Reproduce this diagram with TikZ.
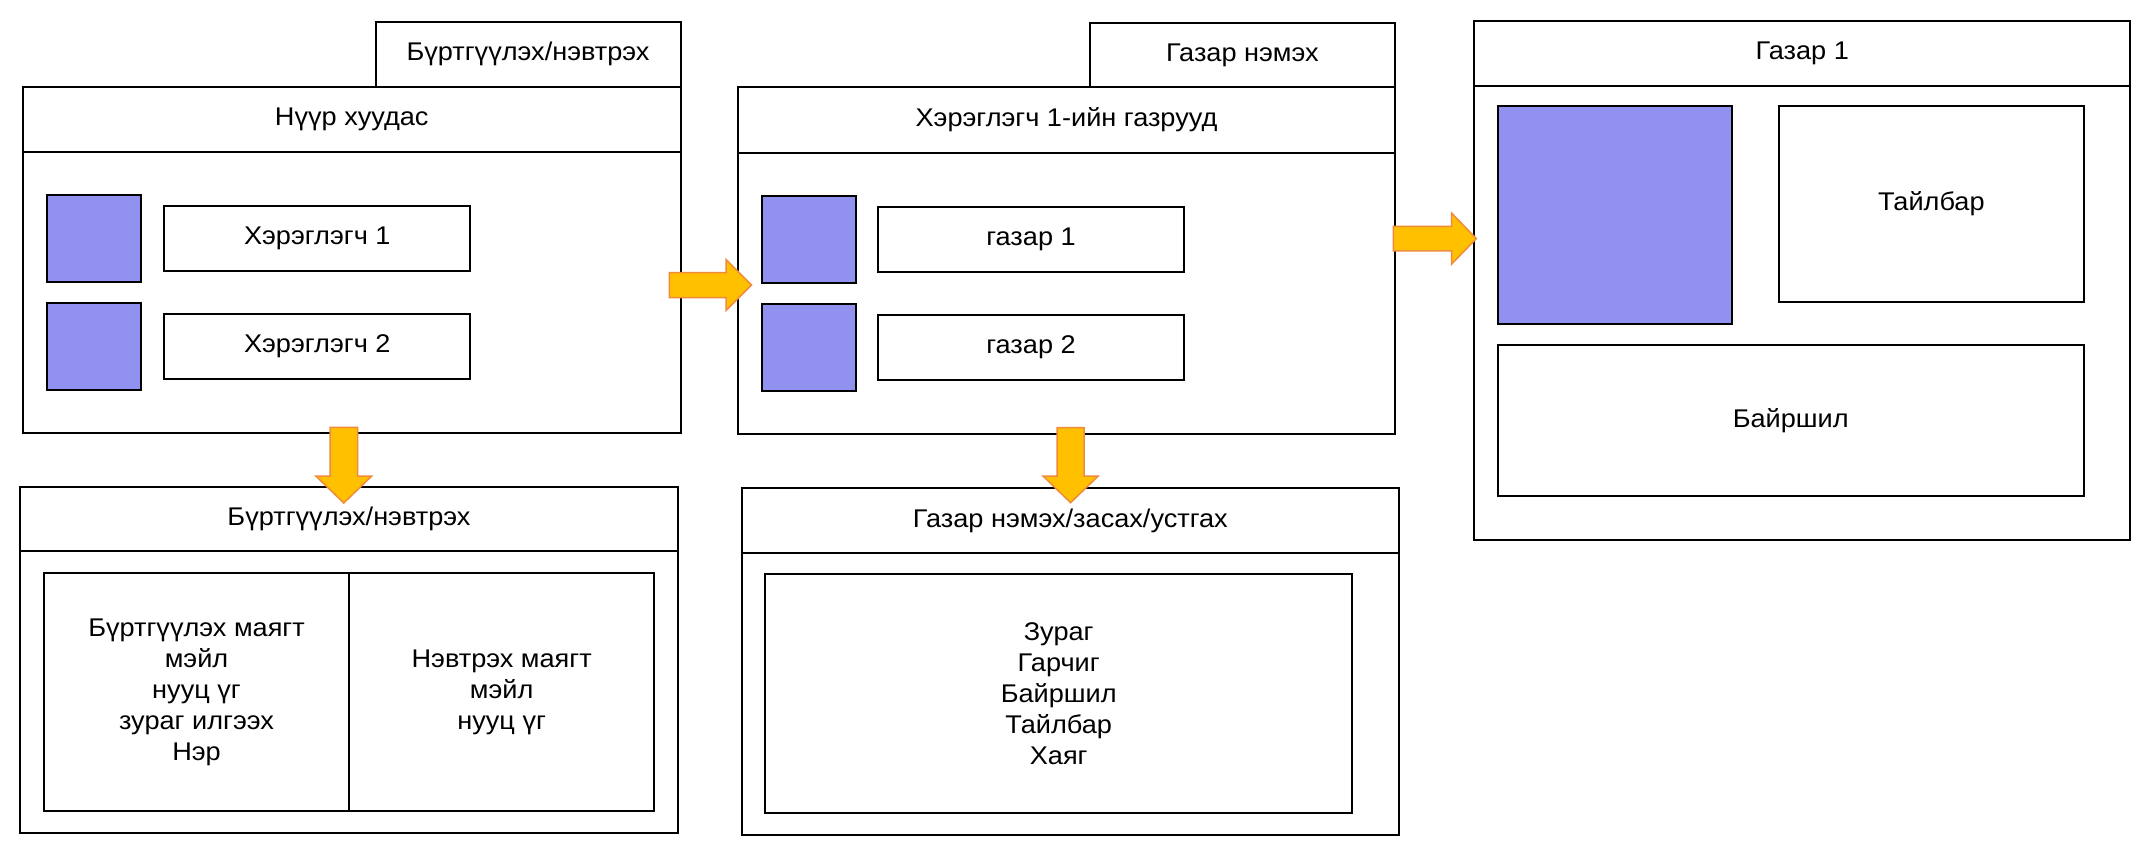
\documentclass[tikz,border=0pt]{standalone}
\usepackage{fontspec}
\setmainfont{Liberation Sans}[FakeStretch=1.06]
\definecolor{imgblue}{RGB}{145,145,240}
\definecolor{arrfill}{RGB}{255,192,0}
\definecolor{arrline}{RGB}{239,139,60}
\begin{document}
\begin{tikzpicture}[x=1pt,y=-1pt,
  box/.style={draw=black, line width=2pt, fill=white, inner sep=0pt, outer sep=0pt, align=center, font=\fontsize{25.6}{31}\selectfont},
  img/.style={draw=black, line width=2pt, fill=imgblue, inner sep=0pt, outer sep=0pt},
  blockarrow/.style={draw=arrline, line width=1.5pt, fill=arrfill, line join=miter}]
\useasboundingbox[fill=white] (0,0) rectangle (2154,854);

% ---- Box A: Нүүр хуудас
\node[box,minimum width=304.9pt,minimum height=64.7pt] (tabA) at (528.05,54.35) {Бүртгүүлэх/нэвтрэх};
\node[box,minimum width=657.5pt,minimum height=281.3pt] (bodyA) at (351.75,292.65) {};
\node[box,minimum width=657.5pt,minimum height=65.3pt] (headA) at (351.75,119.35) {Нүүр хуудас};
\node[img,minimum width=94.6pt,minimum height=87.3pt] (imgA1) at (94.1,238.65) {};
\node[img,minimum width=94.6pt,minimum height=86.7pt] (imgA2) at (94.1,346.65) {};
\node[box,minimum width=305.8pt,minimum height=65pt] (user1) at (317.3,238.5) {Хэрэглэгч 1};
\node[box,minimum width=305.8pt,minimum height=65.3pt] (user2) at (317.3,346.65) {Хэрэглэгч 2};

% ---- Box B: Бүртгүүлэх/нэвтрэх
\node[box,minimum width=657.6pt,minimum height=282.3pt] (bodyB) at (349,692.15) {};
\node[box,minimum width=657.6pt,minimum height=64.3pt] (headB) at (349,518.85) {Бүртгүүлэх/нэвтрэх};
\node[box,minimum width=304.9pt,minimum height=237.7pt] (regform) at (196.55,692.15) {Бүртгүүлэх маягт\\мэйл\\нууц үг\\зураг илгээх\\Нэр};
\node[box,minimum width=305.4pt,minimum height=237.7pt] (loginform) at (501.7,692.15) {Нэвтрэх маягт\\мэйл\\нууц үг};

% ---- Box C: Хэрэглэгч 1-ийн газрууд
\node[box,minimum width=304.4pt,minimum height=64.6pt] (tabC) at (1242.4,55) {Газар нэмэх};
\node[box,minimum width=656.3pt,minimum height=281.6pt] (bodyC) at (1066.45,293.5) {};
\node[box,minimum width=656.3pt,minimum height=65.4pt] (headC) at (1066.45,120) {Хэрэглэгч 1-ийн газрууд};
\node[img,minimum width=94.4pt,minimum height=87pt] (imgC1) at (808.8,239.5) {};
\node[img,minimum width=94.4pt,minimum height=86.7pt] (imgC2) at (808.8,347.65) {};
\node[box,minimum width=305.3pt,minimum height=65pt] (place1) at (1031.05,239.2) {газар 1};
\node[box,minimum width=305.3pt,minimum height=65pt] (place2) at (1031.05,347.5) {газар 2};

% ---- Box D: Газар нэмэх/засах/устгах
\node[box,minimum width=656.3pt,minimum height=282.3pt] (bodyD) at (1070.35,693.85) {};
\node[box,minimum width=656.3pt,minimum height=64.4pt] (headD) at (1070.35,520.5) {Газар нэмэх/засах/устгах};
\node[box,minimum width=586.6pt,minimum height=239pt] (placeform) at (1058.7,693.8) {Зураг\\Гарчиг\\Байршил\\Тайлбар\\Хаяг};

% ---- Box E: Газар 1
\node[box,minimum width=656pt,minimum height=454.3pt] (bodyE) at (1802.3,312.85) {};
\node[box,minimum width=656pt,minimum height=65pt] (headE) at (1802.3,53.2) {Газар 1};
\node[img,minimum width=234.9pt,minimum height=217.2pt] (imgE) at (1614.95,215) {};
\node[box,minimum width=305.1pt,minimum height=195.4pt] (descE) at (1931.35,204.1) {Тайлбар};
\node[box,minimum width=586.4pt,minimum height=151.4pt] (locE) at (1790.7,420.7) {Байршил};

% ---- block arrows
\draw[blockarrow] (669.3,272.5) -- (726,272.5) -- (726,259.5) -- (751.5,285) -- (726,310.5) -- (726,297.5) -- (669.3,297.5) -- cycle;
\draw[blockarrow] (1393.3,226.4) -- (1451.6,226.4) -- (1451.6,213.1) -- (1476.3,238.6) -- (1451.6,264.1) -- (1451.6,250.8) -- (1393.3,250.8) -- cycle;
\draw[blockarrow] (330,427.3) -- (330,476) -- (315.8,476) -- (343.8,503) -- (371.8,476) -- (357.6,476) -- (357.6,427.3) -- cycle;
\draw[blockarrow] (1057.2,427.7) -- (1057.2,476) -- (1043,476) -- (1070.6,502.7) -- (1098.2,476) -- (1084,476) -- (1084,427.7) -- cycle;
\end{tikzpicture}
\end{document}
